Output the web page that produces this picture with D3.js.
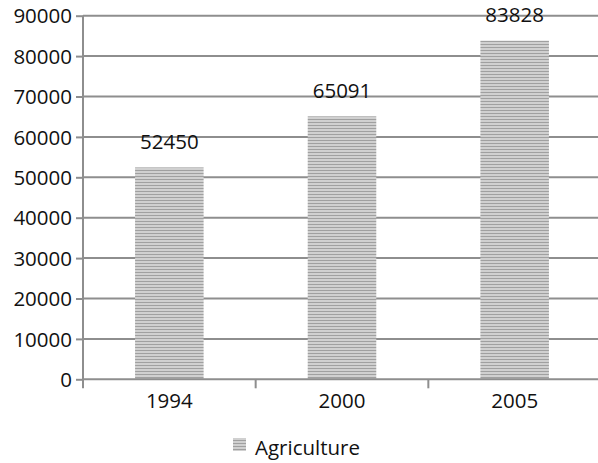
<!DOCTYPE html>
<html>
<head>
<meta charset="utf-8">
<script src="https://cdn.jsdelivr.net/npm/d3@7"></script>
<style>
  html, body { margin: 0; padding: 0; background: #fff; }
  svg { display: block; }
  text { font-family: "Open Sans", sans-serif; fill: #111; }
</style>
</head>
<body>
<svg id="chart" width="598" height="463"></svg>
<script>
// Agriculture values by year
const years = ["1994", "2000", "2005"];
const agriculture = [52450, 65091, 83828];
const yTicks = [0, 10000, 20000, 30000, 40000, 50000, 60000, 70000, 80000, 90000];
const seriesName = "Agriculture";

const W = 598, H = 463;
const margin = { left: 83, right: -3, top: 15.7, bottom: H - 379.3 };
const lineColor = "#8e8e8e";
const fontSize = 20.5;

const svg = d3.select("#chart");

// striped fill used for bars and the legend swatch
const defs = svg.append("defs");
const pat = defs.append("pattern")
  .attr("id", "stripes")
  .attr("patternUnits", "userSpaceOnUse")
  .attr("width", 8).attr("height", 3);
pat.append("rect").attr("width", 8).attr("height", 3).attr("fill", "#d0d0d0");
pat.append("rect").attr("y", 2).attr("width", 8).attr("height", 1).attr("fill", "#a0a0a0");

const x = d3.scaleBand()
  .domain(years)
  .range([margin.left, W - margin.right])
  .padding(0);

const y = d3.scaleLinear()
  .domain([0, 90000])
  .range([H - margin.bottom, margin.top]);

const barW = x.bandwidth() * 0.397;

// horizontal gridlines
svg.append("g")
  .selectAll("line")
  .data(yTicks.filter(d => d > 0))
  .join("line")
  .attr("x1", margin.left)
  .attr("x2", W)
  .attr("y1", d => y(d))
  .attr("y2", d => y(d))
  .attr("stroke", lineColor)
  .attr("stroke-width", 2);

// bars
svg.append("g")
  .selectAll("rect")
  .data(years)
  .join("rect")
  .attr("x", (d) => x(d) + x.bandwidth() / 2 - barW / 2)
  .attr("width", barW)
  .attr("y", (d, i) => y(agriculture[i]))
  .attr("height", (d, i) => y(0) - y(agriculture[i]))
  .attr("fill", "url(#stripes)");

// value labels
svg.append("g")
  .selectAll("text")
  .data(years)
  .join("text")
  .attr("x", d => x(d) + x.bandwidth() / 2)
  .attr("y", (d, i) => y(agriculture[i]) - 18.2)
  .attr("text-anchor", "middle")
  .attr("font-size", fontSize)
  .text((d, i) => agriculture[i]);

// y axis
const yAxis = svg.append("g")
  .attr("transform", `translate(${margin.left},0)`)
  .call(d3.axisLeft(y).tickValues(yTicks).tickSize(7).tickPadding(4).tickFormat(d3.format("d")));
yAxis.select(".domain").attr("stroke", lineColor).attr("stroke-width", 2)
  .attr("d", `M0,${y(90000)}V${y(0) + 9}`);
yAxis.selectAll(".tick line").attr("stroke", lineColor).attr("stroke-width", 2);
yAxis.selectAll(".tick text").attr("font-size", fontSize).attr("fill", "#111")
  .attr("font-family", "Open Sans, sans-serif").attr("dy", "0.35em");

// x axis: baseline, category boundary ticks, labels
const xg = svg.append("g");
xg.append("line")
  .attr("x1", margin.left).attr("x2", W)
  .attr("y1", y(0)).attr("y2", y(0))
  .attr("stroke", lineColor).attr("stroke-width", 2);
xg.selectAll("line.bound")
  .data(years.slice(1))
  .join("line")
  .attr("class", "bound")
  .attr("x1", d => x(d)).attr("x2", d => x(d))
  .attr("y1", y(0)).attr("y2", y(0) + 9)
  .attr("stroke", lineColor).attr("stroke-width", 2);
xg.selectAll("text")
  .data(years)
  .join("text")
  .attr("x", d => x(d) + x.bandwidth() / 2)
  .attr("y", y(0) + 28.4)
  .attr("text-anchor", "middle")
  .attr("font-size", fontSize)
  .text(d => d);

// legend
const lg = svg.append("g");
lg.append("rect")
  .attr("x", 233).attr("y", 438)
  .attr("width", 13).attr("height", 13)
  .attr("fill", "url(#stripes)");
lg.append("text")
  .attr("x", 255).attr("y", 455)
  .attr("font-size", fontSize)
  .text(seriesName);
</script>
</body>
</html>
